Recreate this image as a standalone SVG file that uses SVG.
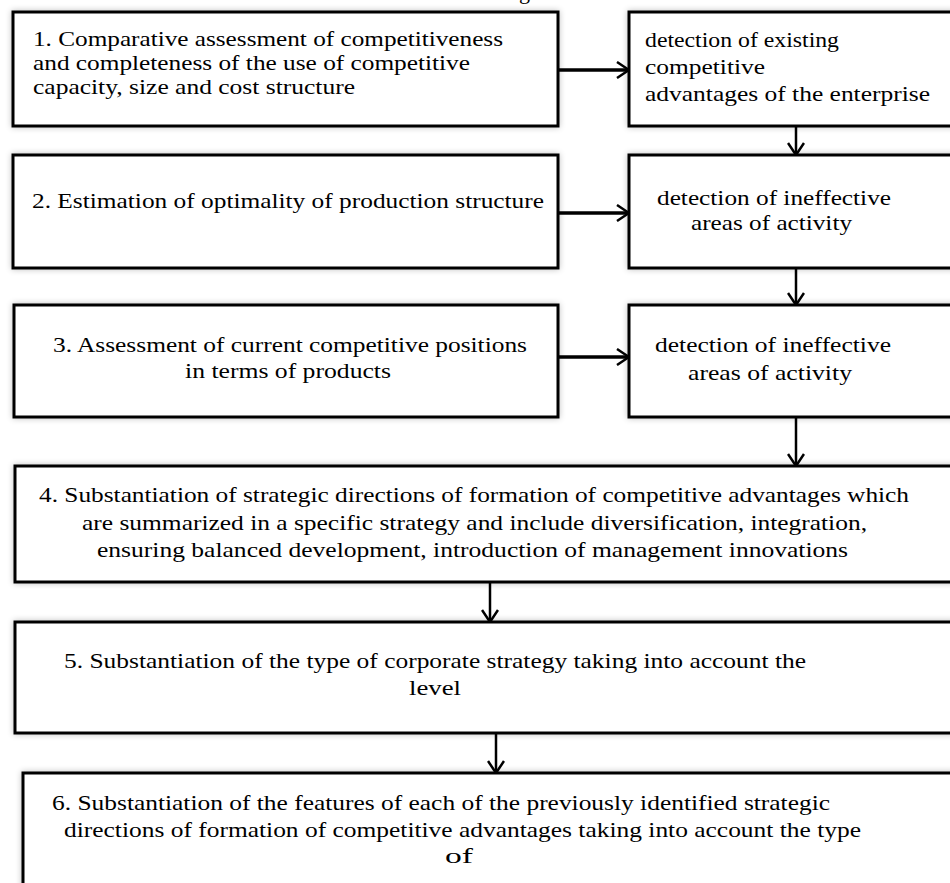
<svg xmlns="http://www.w3.org/2000/svg" width="950" height="883" viewBox="0 0 950 883" font-family="'Liberation Serif', 'Times New Roman', Tinos, serif">
<style>
.box{fill:#fff;stroke:#000;stroke-width:3;filter:url(#sh)}
text{font-family:'Liberation Serif','Times New Roman',Tinos,serif;font-size:22px;fill:#000}
.s{font-size:21px}
.c{stroke:#000;stroke-width:2.5;fill:none;marker-end:url(#ah)}
.h{stroke-width:3.5}
</style>
<defs>
<filter id="sh" x="-5%" y="-10%" width="110%" height="120%">
<feGaussianBlur in="SourceAlpha" stdDeviation="3"/>
<feComponentTransfer><feFuncA type="linear" slope="0.25"/></feComponentTransfer>
<feMerge><feMergeNode/><feMergeNode in="SourceGraphic"/></feMerge>
</filter>
<marker id="ah" viewBox="0 0 14 18" refX="13" refY="9" markerWidth="14" markerHeight="18" markerUnits="userSpaceOnUse" orient="auto">
<path d="M1,1 L13,9 L1,17" fill="none" stroke="#000" stroke-width="2.5"/>
</marker>
</defs>
<rect width="950" height="883" fill="#fff"/>
<text x="519" y="-1">g</text>
<g id="n1">
<rect class="box" x="13" y="12" width="545" height="114"/>
<text class="s" x="33" y="46" textLength="470" lengthAdjust="spacingAndGlyphs">1. Comparative assessment of competitiveness</text>
<text class="s" x="33" y="70" textLength="437" lengthAdjust="spacingAndGlyphs">and completeness of the use of competitive</text>
<text class="s" x="33" y="94" textLength="322" lengthAdjust="spacingAndGlyphs">capacity, size and cost structure</text>
</g>
<g id="r1">
<rect class="box" x="629" y="12" width="400" height="114"/>
<text x="645" y="47" textLength="194" lengthAdjust="spacingAndGlyphs">detection of existing</text>
<text x="645" y="74" textLength="120" lengthAdjust="spacingAndGlyphs">competitive</text>
<text x="645" y="101" textLength="285" lengthAdjust="spacingAndGlyphs">advantages of the enterprise</text>
</g>
<g id="n2">
<rect class="box" x="13" y="155" width="545" height="113"/>
<text x="32" y="208" textLength="512" lengthAdjust="spacingAndGlyphs">2. Estimation of optimality of production structure</text>
</g>
<g id="r2">
<rect class="box" x="629" y="155" width="400" height="113"/>
<text x="657" y="205" textLength="234" lengthAdjust="spacingAndGlyphs">detection of ineffective</text>
<text x="691" y="230" textLength="161" lengthAdjust="spacingAndGlyphs">areas of activity</text>
</g>
<g id="n3">
<rect class="box" x="14" y="305" width="544" height="112"/>
<text x="53" y="352" textLength="474" lengthAdjust="spacingAndGlyphs">3. Assessment of current competitive positions</text>
<text x="185" y="378" textLength="206" lengthAdjust="spacingAndGlyphs">in terms of products</text>
</g>
<g id="r3">
<rect class="box" x="629" y="305" width="400" height="112"/>
<text x="655" y="352" textLength="236" lengthAdjust="spacingAndGlyphs">detection of ineffective</text>
<text x="688" y="380" textLength="164" lengthAdjust="spacingAndGlyphs">areas of activity</text>
</g>
<g id="n4">
<rect class="box" x="15" y="466" width="1000" height="116"/>
<text x="39" y="502" textLength="870" lengthAdjust="spacingAndGlyphs">4. Substantiation of strategic directions of formation of competitive advantages which</text>
<text x="82" y="530" textLength="785" lengthAdjust="spacingAndGlyphs">are summarized in a specific strategy and include diversification, integration,</text>
<text x="97" y="557" textLength="751" lengthAdjust="spacingAndGlyphs">ensuring balanced development, introduction of management innovations</text>
</g>
<g id="n5">
<rect class="box" x="15" y="622" width="1000" height="111"/>
<text x="64" y="668" textLength="742" lengthAdjust="spacingAndGlyphs">5. Substantiation of the type of corporate strategy taking into account the</text>
<text x="409" y="695" textLength="52" lengthAdjust="spacingAndGlyphs">level</text>
</g>
<g id="n6">
<rect class="box" x="23" y="773" width="1000" height="200"/>
<text x="52" y="810" textLength="778" lengthAdjust="spacingAndGlyphs">6. Substantiation of the features of each of the previously identified strategic</text>
<text x="64" y="837" textLength="797" lengthAdjust="spacingAndGlyphs">directions of formation of competitive advantages taking into account the type</text>
<text x="445" y="863" textLength="28" lengthAdjust="spacingAndGlyphs">of</text>
</g>
<g id="connectors">
<line class="c h" x1="558" y1="70" x2="629" y2="70"/>
<line class="c h" x1="558" y1="213" x2="629" y2="213"/>
<line class="c h" x1="558" y1="357" x2="629" y2="357"/>
<line class="c" x1="796" y1="126" x2="796" y2="155"/>
<line class="c" x1="796" y1="268" x2="796" y2="305"/>
<line class="c" x1="796" y1="417" x2="796" y2="466"/>
<line class="c" x1="490" y1="582" x2="490" y2="622"/>
<line class="c" x1="496" y1="733" x2="496" y2="773"/>
</g>
</svg>
